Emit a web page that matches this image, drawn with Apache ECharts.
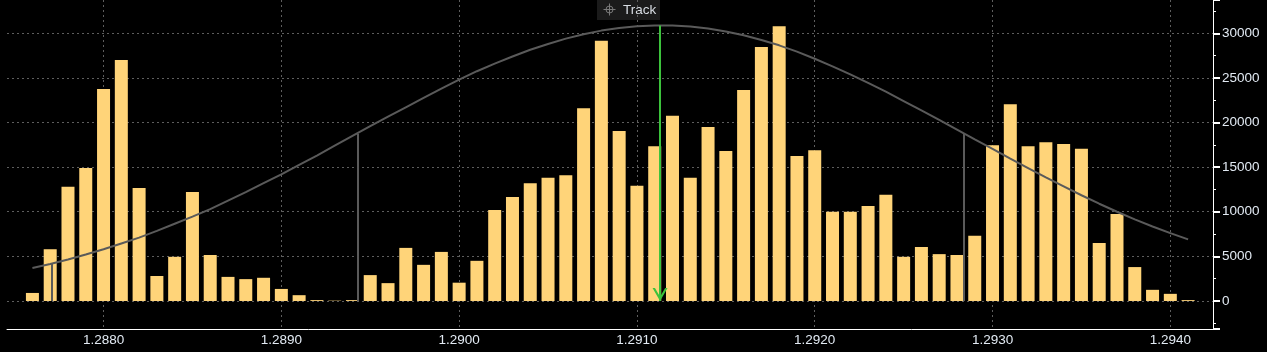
<!DOCTYPE html>
<html>
<head>
<meta charset="utf-8">
<script src="https://cdn.jsdelivr.net/npm/echarts@6/dist/echarts.min.js"></script>
<style>
  html, body { margin: 0; padding: 0; background: #000; }
  #chart { width: 1267px; height: 352px; }
</style>
</head>
<body>
<div id="chart"></div>
<script>
// price levels (one bar per pip)
let prices = [
  1.2876, 1.2877, 1.2878, 1.2879, 1.2880, 1.2881, 1.2882, 1.2883, 1.2884, 1.2885,
  1.2886, 1.2887, 1.2888, 1.2889, 1.2890, 1.2891, 1.2892, 1.2893, 1.2894, 1.2895,
  1.2896, 1.2897, 1.2898, 1.2899, 1.2900, 1.2901, 1.2902, 1.2903, 1.2904, 1.2905,
  1.2906, 1.2907, 1.2908, 1.2909, 1.2910, 1.2911, 1.2912, 1.2913, 1.2914, 1.2915,
  1.2916, 1.2917, 1.2918, 1.2919, 1.2920, 1.2921, 1.2922, 1.2923, 1.2924, 1.2925,
  1.2926, 1.2927, 1.2928, 1.2929, 1.2930, 1.2931, 1.2932, 1.2933, 1.2934, 1.2935,
  1.2936, 1.2937, 1.2938, 1.2939, 1.2940, 1.2941
]
let volumes = [
  900, 5800, 12800, 14900, 23750, 27000, 12650, 2800, 4950, 12200,
  5150, 2700, 2450, 2600, 1350, 650, 100, 40, 100, 2900,
  2000, 5950, 4050, 5500, 2050, 4500, 10200, 11650, 13200, 13800,
  14100, 21600, 29150, 19050, 12900, 17350, 20750, 13800, 19500, 16800,
  23650, 28450, 30800, 16250, 16900, 10000, 10000, 10650, 11900, 4950,
  6050, 5250, 5150, 7300, 17450, 22050, 17350, 17800, 17600, 17050,
  6500, 9750, 3800, 1250, 800, 100
]
// distribution curve read at the same price levels
let curve = [
  3700, 4150, 4650, 5200, 5800, 6450, 7100, 7850, 8650, 9450,
  10300, 11250, 12200, 13200, 14200, 15250, 16300, 17400, 18500, 19600,
  20650, 21700, 22750, 23800, 24800, 25750, 26600, 27400, 28150, 28800,
  29400, 29900, 30300, 30600, 30800, 30880, 30870, 30750, 30530, 30200,
  29780, 29250, 28650, 27950, 27150, 26300, 25400, 24450, 23450, 22400,
  21350, 20300, 19200, 18100, 17050, 15950, 14900, 13850, 12850, 11850,
  10900, 10000, 9150, 8350, 7600, 6900
]
// gray drop lines and the green track arrow
let levelPrices = [1.28771, 1.28943, 1.29284]
let levelHeights = [4200, 18750, 18750]
let trackPrice = 1.29113
let trackHeight = 30880

let labelFont = 'Liberation Sans'
let labelColor = '#e2eaf3'

let chart = echarts.init(document.getElementById('chart'))

let barData = prices.map((p, i) => [p, volumes[i]])
let curveData = prices.map((p, i) => [p, curve[i]])
let levelLines = levelPrices.map((p, i) => [{coord: [p, 0]}, {coord: [p, levelHeights[i]]}])

let option = {
  backgroundColor: '#000000',
  animation: false,
  grid: {left: 7, right: 54, top: 0, bottom: 23},
  xAxis: {
    type: 'value',
    min: 1.287457,
    max: 1.29424,
    splitNumber: 7,
    axisLine: {onZero: false, lineStyle: {color: '#ffffff', width: 1}},
    axisTick: {show: false},
    axisLabel: {
      color: labelColor,
      fontFamily: labelFont,
      fontSize: 13.5,
      margin: 4,
      showMinLabel: false,
      showMaxLabel: false,
      formatter: v => v.toFixed(4)
    },
    splitLine: {
      show: true,
      showMinLine: false,
      showMaxLine: false,
      lineStyle: {color: '#5e5e5e', type: [2, 3]}
    }
  },
  yAxis: {
    type: 'value',
    position: 'right',
    min: -3140,
    max: 33730,
    splitNumber: 7,
    axisLine: {show: true, lineStyle: {color: '#ffffff', width: 1}},
    axisTick: {show: true, inside: false, length: 7, lineStyle: {color: '#ffffff', width: 2}},
    minorTick: {show: true, splitNumber: 2, length: 3, lineStyle: {color: '#ffffff'}},
    axisLabel: {
      color: labelColor,
      fontFamily: labelFont,
      fontSize: 13.5,
      margin: 9,
      showMinLabel: false,
      showMaxLabel: false,
      formatter: v => String(v)
    },
    splitLine: {
      show: true,
      showMinLine: false,
      showMaxLine: false,
      lineStyle: {color: '#5e5e5e', type: [2, 3]}
    }
  },
  series: [
    {
      type: 'bar',
      data: barData,
      barWidth: 13,
      itemStyle: {color: '#ffd479'},
      z: 2
    },
    {
      type: 'line',
      data: curveData,
      showSymbol: false,
      smooth: false,
      lineStyle: {color: '#5a5a5a', width: 2},
      z: 3,
      markLine: {
        silent: true,
        symbol: 'none',
        label: {show: false},
        lineStyle: {color: '#5a5a5a', width: 2, type: 'solid'},
        data: levelLines
      }
    },
    {
      type: 'line',
      data: [],
      z: 4,
      markLine: {
        silent: true,
        // open arrow head, tip at the centre of its box so it lands on 0
        symbol: ['none', 'path://M5,-10 L5.01,-10 L5,-9.99 Z M0,10 L5,0 L10,10 L8.4,10 L5,3.2 L1.6,10 Z'],
        symbolSize: [15, 26],
        label: {show: false},
        lineStyle: {color: '#3cc23c', width: 2, type: 'solid'},
        data: [[{coord: [trackPrice, trackHeight]}, {coord: [trackPrice, 0]}]]
      }
    }
  ],
  graphic: [
    {
      type: 'group',
      left: 597,
      top: 0,
      children: [
        {type: 'rect', shape: {x: 0, y: 0, width: 63, height: 20}, style: {fill: 'rgba(32,32,32,0.85)'}},
        {type: 'circle', shape: {cx: 12.5, cy: 9.5, r: 3.5}, style: {fill: 'none', stroke: '#7a7a7a', lineWidth: 1}},
        {type: 'line', shape: {x1: 6.5, y1: 9.5, x2: 18.5, y2: 9.5}, style: {stroke: '#7a7a7a', lineWidth: 1}},
        {type: 'line', shape: {x1: 12.5, y1: 3.5, x2: 12.5, y2: 15.5}, style: {stroke: '#7a7a7a', lineWidth: 1}},
        {type: 'text', x: 26, y: 10, style: {text: 'Track', fill: '#d8dde3', font: '13.5px Liberation Sans', verticalAlign: 'middle'}}
      ]
    }
  ]
}
chart.setOption(option)
</script>
</body>
</html>
